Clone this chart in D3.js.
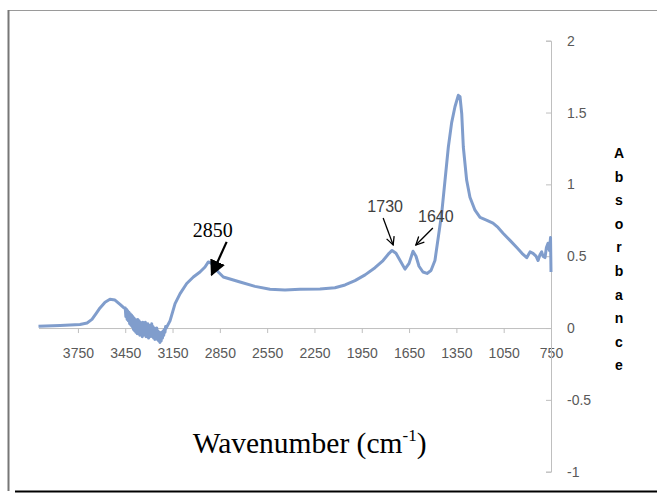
<!DOCTYPE html>
<html><head><meta charset="utf-8">
<script src="https://cdn.jsdelivr.net/npm/d3@7"></script>
<style>body{margin:0;background:#fff;}svg{display:block;}</style>
</head><body>
<script>
// Wavenumbers (cm^-1) and absorbance values
const wavenumbers = [4000,3863,3737,3692,3661,3635,3610,3578,3547,3515,3483,3458,
 3450,3446,3442,3438,3434,3430,3426,3422,3418,3414,3410,3406,3402,3398,3394,3390,3386,3382,3378,3374,
 3370,3366,3362,3358,3354,3350,3346,3342,3338,3334,3330,3326,3322,3318,3314,3310,3306,3302,3298,3294,
 3290,3286,3282,3278,3274,3270,3266,3262,3258,3254,3250,3246,3242,3238,3234,3230,3226,3222,3218,3214,
 3210,3206,3202,3198,3194,3190,
 3166,3134,3102,3060,3018,2976,2944,2923,2902,2860,2828,2722,2627,2532,2437,2342,2215,2120,2056,1993,
 1929,1866,1815,1777,1758,1733,1707,1676,1650,1625,1606,1587,1562,1536,1511,1486,1465,1443,1422,1401,
 1380,1359,1338,1327,1316,1306,1285,1264,1232,1200,1156,1118,1086,1054,1010,967,934,904,883,864,845,
 832,820,809,801,788,779,769,760,753,750];
const absorbance = [0.012,0.018,0.025,0.035,0.06,0.10,0.14,0.18,0.20,0.195,0.165,0.14,
 0.14,0.08,0.13,0.06,0.12,0.05,0.11,0.03,0.10,0.02,0.09,0.01,0.08,-0.01,0.07,-0.02,0.06,-0.03,0.05,-0.04,
 0.06,-0.03,0.05,-0.05,0.04,-0.04,0.03,-0.06,0.04,-0.05,0.03,-0.04,0.04,-0.06,0.02,-0.05,0.03,-0.07,0.01,-0.06,
 0.02,-0.05,0.03,-0.06,0.01,-0.07,0.0,-0.08,-0.01,-0.07,0.0,-0.08,-0.02,-0.09,-0.03,-0.10,-0.04,-0.09,-0.03,-0.07,
 -0.02,-0.05,-0.01,-0.03,0.01,0.0,
 0.05,0.17,0.24,0.31,0.355,0.39,0.425,0.46,0.45,0.39,0.355,0.32,0.29,0.27,0.265,0.27,0.272,0.28,0.30,0.33,
 0.37,0.42,0.47,0.52,0.54,0.52,0.47,0.41,0.45,0.535,0.50,0.43,0.39,0.38,0.40,0.47,0.63,0.80,1.03,1.26,
 1.43,1.54,1.62,1.61,1.49,1.26,1.03,0.91,0.82,0.77,0.75,0.73,0.70,0.66,0.61,0.56,0.52,0.49,0.53,0.52,0.50,
 0.47,0.51,0.53,0.50,0.49,0.56,0.59,0.54,0.63,0.39];
const xTicks = [3750,3450,3150,2850,2550,2250,1950,1650,1350,1050,750];
const yTicks = [-1,-0.5,0,0.5,1,1.5,2];
const yTitle = "Absorbance";
const annLabels = ["2850","1730","1640"];
const annTipW = [2902,1751,1607];
const annTipA = [0.37,0.578,0.578];

const W = 657, H = 493;
const svg = d3.select("body").append("svg").attr("width",W).attr("height",H);

// frame
svg.append("line").attr("x1",8).attr("x2",W).attr("y1",10.5).attr("y2",10.5).attr("stroke","#9a9a9a");
svg.append("line").attr("x1",8.5).attr("x2",8.5).attr("y1",10).attr("y2",491).attr("stroke","#777").attr("stroke-width",2);
svg.append("line").attr("x1",15).attr("x2",W).attr("y1",491.5).attr("y2",491.5).attr("stroke","#000").attr("stroke-width",2);

const x = d3.scaleLinear().domain([4000,750]).range([38.5,551]);
const y = d3.scaleLinear().domain([-1,2]).range([471.7,40.7]);

// x axis at zero
const gx = svg.append("g").attr("transform",`translate(0,${y(0)})`)
  .call(d3.axisBottom(x).tickValues(xTicks).tickSize(5).tickSizeOuter(0).tickPadding(15).tickFormat(d3.format("d")));
gx.selectAll("path,line").attr("stroke","#bfbfbf");
gx.selectAll("text").attr("fill","#595959").style("font-family","'Liberation Sans',Arial,sans-serif").style("font-size","14px");

// y axis at right
const gy = svg.append("g").attr("transform",`translate(${x(750)},0)`)
  .call(d3.axisLeft(y).tickValues(yTicks).tickSize(5).tickSizeOuter(5).tickFormat(d=>String(d)));
gy.selectAll("path,line").attr("stroke","#bfbfbf");
gy.selectAll("text").attr("x",16).attr("text-anchor","start").attr("fill","#595959")
  .style("font-family","'Liberation Sans',Arial,sans-serif").style("font-size","14px");

// series
const pts = wavenumbers.map((w,i)=>[w,absorbance[i]]);
svg.append("path").datum(pts)
  .attr("d",d3.line().x(d=>x(d[0])).y(d=>y(d[1])))
  .attr("fill","none").attr("stroke","#809dcc").attr("stroke-width",3).attr("stroke-linejoin","round");

// y title, stacked letters
svg.append("g").selectAll("text").data(yTitle.split("")).join("text")
  .attr("x",619).attr("y",(d,i)=>158+i*23.6).attr("text-anchor","middle")
  .attr("fill","#000").style("font-family","'Liberation Sans',Arial,sans-serif")
  .style("font-size","14px").style("font-weight","bold").text(d=>d);

// x title
const xt = svg.append("text").attr("x",192.7).attr("y",453)
  .style("font-family","'Liberation Serif','Times New Roman',serif").style("font-size","29.5px").attr("fill","#000");
xt.append("tspan").text("Wavenumber (cm");
xt.append("tspan").attr("dy",-12).style("font-size","17px").text("-1");
xt.append("tspan").attr("dy",12).text(")");

// annotations
const defs = svg.append("defs");
defs.append("marker").attr("id","fill-arrow").attr("viewBox","0 0 10 10").attr("refX",9).attr("refY",5)
  .attr("markerWidth",16).attr("markerHeight",16).attr("markerUnits","userSpaceOnUse").attr("orient","auto")
  .append("path").attr("d","M0,0L10,5L0,10Z").attr("fill","#000");
defs.append("marker").attr("id","open-arrow").attr("viewBox","0 0 10 10").attr("refX",9).attr("refY",5)
  .attr("markerWidth",10).attr("markerHeight",10).attr("markerUnits","userSpaceOnUse").attr("orient","auto")
  .append("path").attr("d","M1,1L9,5L1,9").attr("fill","none").attr("stroke","#000").attr("stroke-width",1.3);

// 2850: bold arrow, serif label
{
  const tx = x(annTipW[0]), ty = y(annTipA[0]);
  svg.append("line").attr("x1",tx+15).attr("y1",ty-33).attr("x2",tx).attr("y2",ty)
    .attr("stroke","#000").attr("stroke-width",2.2).attr("marker-end","url(#fill-arrow)");
  svg.append("text").attr("x",tx+1).attr("y",ty-38).attr("text-anchor","middle")
    .style("font-family","'Liberation Serif','Times New Roman',serif").style("font-size","20px").text(annLabels[0]);
}
// 1730
{
  const tx = x(annTipW[1]), ty = y(annTipA[1]);
  svg.append("line").attr("x1",tx-10).attr("y1",ty-27).attr("x2",tx).attr("y2",ty)
    .attr("stroke","#000").attr("stroke-width",1.3).attr("marker-end","url(#open-arrow)");
  svg.append("text").attr("x",tx-8).attr("y",ty-33).attr("text-anchor","middle").attr("fill","#404040")
    .style("font-family","'Liberation Sans',Arial,sans-serif").style("font-size","16px").text(annLabels[1]);
}
// 1640
{
  const tx = x(annTipW[2]), ty = y(annTipA[2]);
  svg.append("line").attr("x1",tx+17).attr("y1",ty-17).attr("x2",tx).attr("y2",ty)
    .attr("stroke","#000").attr("stroke-width",1.3).attr("marker-end","url(#open-arrow)");
  svg.append("text").attr("x",tx+20).attr("y",ty-23).attr("text-anchor","middle").attr("fill","#404040")
    .style("font-family","'Liberation Sans',Arial,sans-serif").style("font-size","16px").text(annLabels[2]);
}
</script>
</body></html>
